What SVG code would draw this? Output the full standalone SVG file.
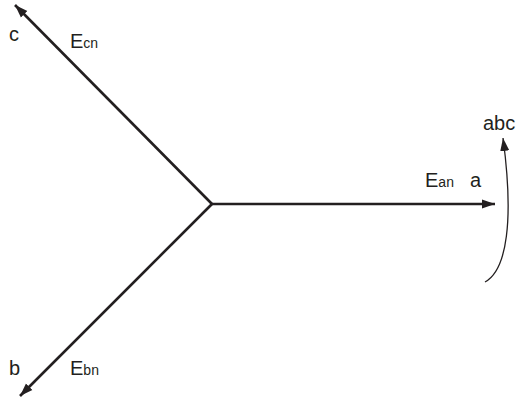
<svg xmlns="http://www.w3.org/2000/svg" width="524" height="400" viewBox="0 0 524 400">
<style>
.l{stroke:#231f20;stroke-width:2.6;fill:none}
.t{font-family:"Liberation Sans",Arial,sans-serif;font-size:20px;fill:#231f20}
.s{font-size:14px}
</style>
<defs>
<marker id="ah2" viewBox="0 0 10 10" refX="10" refY="5" markerWidth="13" markerHeight="13" markerUnits="userSpaceOnUse" orient="auto">
<path d="M0,1.5 L10,5 L0,8.5 z" fill="#231f20"/>
</marker>
</defs>
<g id="connectors">
<line class="l" x1="212" y1="204" x2="495" y2="204" marker-end="url(#ah2)"/>
<line class="l" x1="212" y1="204" x2="15" y2="5" marker-end="url(#ah2)"/>
<line class="l" x1="212" y1="204" x2="20" y2="396" marker-end="url(#ah2)"/>
<path d="M485,282 C507,270 514,220 503,138" stroke="#231f20" stroke-width="1.3" fill="none" marker-end="url(#ah2)"/>
</g>
<g id="a"><text class="t" x="470" y="187">a</text></g>
<g id="b"><text class="t" x="9" y="375">b</text></g>
<g id="c"><text class="t" x="9" y="41">c</text></g>
<g id="Ean"><text class="t" x="425" y="187">E<tspan class="s">an</tspan></text></g>
<g id="Ebn"><text class="t" x="70" y="375">E<tspan class="s">bn</tspan></text></g>
<g id="Ecn"><text class="t" x="70" y="48">E<tspan class="s">cn</tspan></text></g>
<g id="abc"><text class="t" x="483" y="130">abc</text></g>
</svg>
